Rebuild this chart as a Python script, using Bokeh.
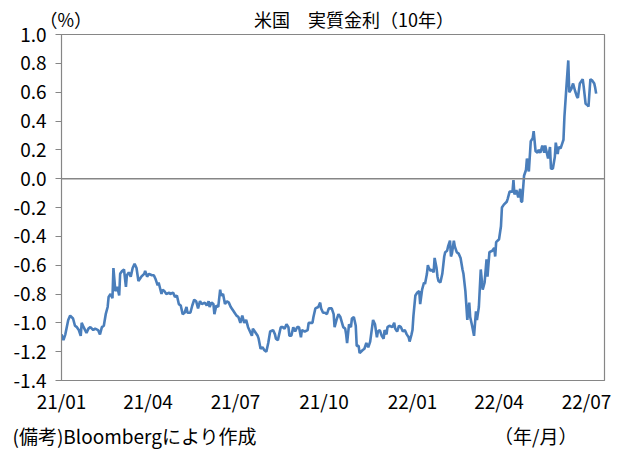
import pandas as pd
from bokeh.plotting import figure
from bokeh.models import Range1d, FixedTicker, Span, DatetimeTickFormatter, PrintfTickFormatter, Title
from bokeh.embed import file_html
from bokeh.resources import INLINE

# ---- data ----
dates = [
    "2021-01-01", "2021-01-03", "2021-01-05", "2021-01-08", "2021-01-10", "2021-01-13", "2021-01-15", "2021-01-17",
    "2021-01-19", "2021-01-21", "2021-01-22", "2021-01-24", "2021-01-27", "2021-01-29", "2021-01-31", "2021-02-03",
    "2021-02-05", "2021-02-08", "2021-02-10", "2021-02-12", "2021-02-14", "2021-02-16", "2021-02-18", "2021-02-19",
    "2021-02-21", "2021-02-23", "2021-02-24", "2021-02-26", "2021-02-28", "2021-03-02", "2021-03-03", "2021-03-05",
    "2021-03-07", "2021-03-09", "2021-03-10", "2021-03-12", "2021-03-14", "2021-03-16", "2021-03-18", "2021-03-20",
    "2021-03-22", "2021-03-25", "2021-03-28", "2021-03-29", "2021-03-31", "2021-04-02", "2021-04-05", "2021-04-07",
    "2021-04-09", "2021-04-11", "2021-04-12", "2021-04-15", "2021-04-16", "2021-04-18", "2021-04-20", "2021-04-23",
    "2021-04-24", "2021-04-27", "2021-04-29", "2021-05-01", "2021-05-03", "2021-05-05", "2021-05-07", "2021-05-09",
    "2021-05-11", "2021-05-12", "2021-05-15", "2021-05-17", "2021-05-19", "2021-05-21", "2021-05-23", "2021-05-25",
    "2021-05-27", "2021-05-30", "2021-06-01", "2021-06-03", "2021-06-04", "2021-06-06", "2021-06-08", "2021-06-09",
    "2021-06-11", "2021-06-13", "2021-06-15", "2021-06-16", "2021-06-18", "2021-06-20", "2021-06-22", "2021-06-24",
    "2021-06-26", "2021-06-29", "2021-06-30", "2021-07-02", "2021-07-04", "2021-07-06", "2021-07-08", "2021-07-10",
    "2021-07-12", "2021-07-14", "2021-07-16", "2021-07-18", "2021-07-19", "2021-07-21", "2021-07-24", "2021-07-25",
    "2021-07-27", "2021-07-29", "2021-07-31", "2021-08-02", "2021-08-04", "2021-08-05", "2021-08-06", "2021-08-09",
    "2021-08-11", "2021-08-12", "2021-08-14", "2021-08-17", "2021-08-19", "2021-08-21", "2021-08-23", "2021-08-25",
    "2021-08-26", "2021-08-28", "2021-08-30", "2021-09-01", "2021-09-03", "2021-09-05", "2021-09-07", "2021-09-08",
    "2021-09-11", "2021-09-14", "2021-09-15", "2021-09-17", "2021-09-19", "2021-09-20", "2021-09-22", "2021-09-25",
    "2021-09-27", "2021-09-28", "2021-09-30", "2021-10-02", "2021-10-04", "2021-10-06", "2021-10-09", "2021-10-11",
    "2021-10-12", "2021-10-14", "2021-10-16", "2021-10-18", "2021-10-21", "2021-10-23", "2021-10-24", "2021-10-25",
    "2021-10-27", "2021-10-29", "2021-10-30", "2021-11-01", "2021-11-03", "2021-11-04", "2021-11-06", "2021-11-07",
    "2021-11-10", "2021-11-12", "2021-11-14", "2021-11-16", "2021-11-18", "2021-11-20", "2021-11-21", "2021-11-23",
    "2021-11-25", "2021-11-26", "2021-11-28", "2021-11-30", "2021-12-02", "2021-12-03", "2021-12-05", "2021-12-06",
    "2021-12-08", "2021-12-11", "2021-12-13", "2021-12-14", "2021-12-16", "2021-12-18", "2021-12-20", "2021-12-22",
    "2021-12-24", "2021-12-26", "2021-12-28", "2021-12-29", "2021-12-31", "2022-01-01", "2022-01-02", "2022-01-04",
    "2022-01-06", "2022-01-08", "2022-01-09", "2022-01-11", "2022-01-13", "2022-01-14", "2022-01-16", "2022-01-17",
    "2022-01-18", "2022-01-20", "2022-01-21", "2022-01-23", "2022-01-24", "2022-01-26", "2022-01-27", "2022-01-28",
    "2022-01-30", "2022-02-01", "2022-02-03", "2022-02-04", "2022-02-06", "2022-02-07", "2022-02-09", "2022-02-10",
    "2022-02-11", "2022-02-13", "2022-02-14", "2022-02-16", "2022-02-18", "2022-02-20", "2022-02-22", "2022-02-23",
    "2022-02-25", "2022-02-27", "2022-03-01", "2022-03-02", "2022-03-04", "2022-03-06", "2022-03-08", "2022-03-09",
    "2022-03-11", "2022-03-13", "2022-03-15", "2022-03-17", "2022-03-19", "2022-03-20", "2022-03-22", "2022-03-25",
    "2022-03-27", "2022-03-28", "2022-03-29", "2022-04-01", "2022-04-03", "2022-04-04", "2022-04-06", "2022-04-09",
    "2022-04-10", "2022-04-12", "2022-04-15", "2022-04-16", "2022-04-17", "2022-04-19", "2022-04-21", "2022-04-23",
    "2022-04-24", "2022-04-25", "2022-04-27", "2022-04-29", "2022-04-30", "2022-05-02", "2022-05-04", "2022-05-06",
    "2022-05-07", "2022-05-09", "2022-05-11", "2022-05-12", "2022-05-14", "2022-05-16", "2022-05-18", "2022-05-19",
    "2022-05-21", "2022-05-22", "2022-05-24", "2022-05-25", "2022-05-27", "2022-05-29", "2022-05-30", "2022-06-01",
    "2022-06-02", "2022-06-04", "2022-06-06", "2022-06-07", "2022-06-08", "2022-06-10", "2022-06-12", "2022-06-13",
    "2022-06-15", "2022-06-17", "2022-06-19", "2022-06-21", "2022-06-22", "2022-06-24", "2022-06-27", "2022-06-28",
    "2022-06-30", "2022-07-02", "2022-07-03", "2022-07-05", "2022-07-07", "2022-07-09", "2022-07-10", "2022-07-11",
]
real_yield = [
    -1.08, -1.12, -1.08, -0.98, -0.95, -0.97, -1.02, -1.03,
    -1.05, -1.09, -1.00, -1.03, -1.07, -1.04, -1.03, -1.05,
    -1.04, -1.05, -1.08, -1.03, -1.02, -0.94, -0.89, -0.82,
    -0.80, -0.83, -0.62, -0.78, -0.75, -0.81, -0.66, -0.64,
    -0.63, -0.75, -0.67, -0.65, -0.68, -0.62, -0.59, -0.62,
    -0.71, -0.68, -0.66, -0.64, -0.68, -0.66, -0.67, -0.67,
    -0.70, -0.74, -0.72, -0.80, -0.77, -0.78, -0.80, -0.79,
    -0.80, -0.79, -0.82, -0.81, -0.87, -0.88, -0.94, -0.93,
    -0.89, -0.93, -0.93, -0.88, -0.84, -0.85, -0.90, -0.85,
    -0.87, -0.86, -0.88, -0.85, -0.89, -0.86, -0.87, -0.94,
    -0.88, -0.89, -0.77, -0.81, -0.80, -0.87, -0.85, -0.86,
    -0.89, -0.92, -0.93, -0.95, -0.96, -1.00, -0.95, -1.00,
    -0.98, -1.03, -1.06, -1.09, -1.04, -1.06, -1.09, -1.11,
    -1.18, -1.17, -1.19, -1.20, -1.14, -1.10, -1.06, -1.05,
    -1.08, -1.11, -1.12, -1.03, -1.03, -1.04, -1.01, -1.03,
    -1.09, -1.09, -1.03, -1.06, -1.03, -1.03, -1.10, -1.05,
    -1.06, -1.05, -1.00, -1.00, -1.00, -0.96, -0.90, -0.89,
    -0.86, -0.90, -0.93, -0.93, -0.94, -0.90, -0.90, -0.94,
    -1.03, -0.98, -0.94, -0.96, -1.03, -1.04, -1.08, -1.14,
    -1.01, -1.03, -0.97, -0.96, -1.02, -1.16, -1.16, -1.21,
    -1.19, -1.18, -1.14, -1.17, -1.13, -1.03, -0.98, -1.01,
    -1.10, -1.06, -1.05, -1.09, -1.11, -1.05, -1.08, -1.03,
    -1.02, -1.03, -1.00, -1.04, -1.06, -1.02, -1.03, -1.06,
    -1.05, -1.08, -1.10, -1.13, -1.08, -1.05, -0.95, -0.81,
    -0.79, -0.78, -0.87, -0.77, -0.72, -0.73, -0.66, -0.60,
    -0.62, -0.64, -0.63, -0.65, -0.55, -0.62, -0.68, -0.71,
    -0.72, -0.66, -0.54, -0.51, -0.50, -0.47, -0.43, -0.54,
    -0.52, -0.43, -0.47, -0.51, -0.52, -0.55, -0.63, -0.66,
    -0.78, -0.98, -0.86, -0.96, -1.02, -1.09, -0.92, -0.98,
    -0.89, -0.63, -0.77, -0.72, -0.56, -0.68, -0.51, -0.50,
    -0.48, -0.54, -0.44, -0.42, -0.33, -0.20, -0.18, -0.16,
    -0.14, -0.09, -0.09, -0.01, -0.11, -0.08, -0.13, -0.07,
    -0.16, -0.16, 0.02, 0.06, 0.14, 0.05, 0.26, 0.28,
    0.33, 0.19, 0.18, 0.20, 0.18, 0.23, 0.18, 0.23,
    0.17, 0.14, 0.22, 0.07, 0.07, 0.15, 0.25, 0.17,
    0.22, 0.21, 0.25, 0.27, 0.43, 0.63, 0.82, 0.60,
    0.62, 0.66, 0.61, 0.57, 0.56, 0.66, 0.69, 0.64,
    0.52, 0.51, 0.50, 0.69, 0.68, 0.66, 0.63, 0.59,
]
x_tick_dates = ["2021-01-01", "2021-04-01", "2021-07-01", "2021-10-01", "2022-01-01", "2022-04-01", "2022-07-01"]
y_ticks = [-1.4, -1.2, -1.0, -0.8, -0.6, -0.4, -0.2, 0.0, 0.2, 0.4, 0.6, 0.8, 1.0]
title_text = "米国　実質金利（10年）"
unit_text = "（%）"
source_text = "(備考)Bloombergにより作成"
xunit_text = "（年/月）"

FONT = "Noto Sans CJK JP"
GRAY = "#868686"
BLUE = "#4A7EBB"
IDSP = "\u3000"   # ideographic space used as a gap inside one text row
ENSP = "\u2002"

x = pd.to_datetime(dates)
p = figure(width=618, height=451, x_axis_type="datetime", output_backend="svg",
           toolbar_location=None,
           x_range=Range1d(pd.Timestamp("2021-01-01"), pd.Timestamp("2022-07-19 16:00")),
           y_range=Range1d(-1.4, 1.0),
           min_border_left=61, min_border_right=14, min_border_top=34, min_border_bottom=69)
p.background_fill_color = "white"
p.border_fill_color = "white"
p.outline_line_color = GRAY
p.outline_line_width = 1.2
p.xgrid.visible = False
p.ygrid.visible = False

# top row: unit mark at the left, chart title further right
p.title.text = unit_text + IDSP * 9 + ENSP + title_text
p.title.align = "left"
p.title.offset = -22
p.title.standoff = 6
p.title.text_font = FONT
p.title.text_font_size = "18px"
p.title.text_font_style = "normal"
p.title.text_color = "black"

p.line(x, real_yield, line_color=BLUE, line_width=2.6)
p.add_layout(Span(location=0, dimension="width", line_color=GRAY, line_width=1.5))

tick_ms = [pd.Timestamp(d).value / 1e6 for d in x_tick_dates]
p.xaxis.ticker = FixedTicker(ticks=tick_ms)
p.xaxis.formatter = DatetimeTickFormatter(months="%y/%m", days="%y/%m", years="%y/%m",
                                          hours="%y/%m", minutes="%y/%m")
p.xaxis.major_tick_out = 0
p.xaxis.major_tick_in = 0
p.xaxis.minor_tick_out = 0
p.xaxis.minor_tick_in = 0
p.xaxis.axis_line_color = GRAY
p.xaxis.major_label_standoff = 6

p.yaxis.ticker = FixedTicker(ticks=y_ticks)
p.yaxis.formatter = PrintfTickFormatter(format="%.1f")
p.yaxis.major_tick_out = 6
p.yaxis.major_tick_in = 0
p.yaxis.minor_tick_out = 0
p.yaxis.minor_tick_in = 0
p.yaxis.axis_line_color = GRAY
p.yaxis.major_tick_line_color = GRAY
p.yaxis.major_label_standoff = 9

for ax in (p.xaxis, p.yaxis):
    ax.major_label_text_font = FONT
    ax.major_label_text_font_size = "19px"
    ax.major_label_text_color = "black"

# bottom row: source note at the left, x unit further right
foot = Title(text=source_text + IDSP * 13 + xunit_text, align="left", offset=-49, standoff=6,
             text_font=FONT, text_font_size="19px", text_font_style="normal", text_color="black")
p.add_layout(foot, "below")

open("out.html", "w").write(file_html(p, INLINE))
